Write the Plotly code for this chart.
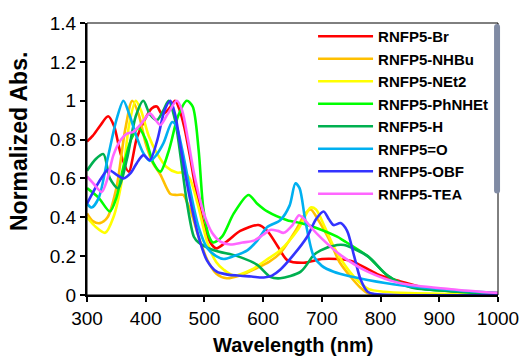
import plotly.graph_objects as go

names = ["RNFP5-Br", "RNFP5-NHBu", "RNFP5-NEt2", "RNFP5-PhNHEt",
         "RNFP5-H", "RNFP5=O", "RNFP5-OBF", "RNFP5-TEA"]
colors = ["#FF0000", "#FFC000", "#FFFF00", "#00FF00",
          "#00B050", "#00B0F0", "#3333FF", "#FF66FF"]

br_wl = [300, 310, 322, 336, 346, 358, 371, 385, 398, 410, 419, 428, 440, 450, 458, 466, 475, 485, 500, 510, 520, 540, 561, 592, 607, 625, 641, 669, 700, 726, 750, 780, 800, 834, 870, 920, 1000]
br_a = [0.79, 0.82, 0.87, 0.92, 0.87, 0.72, 0.635, 0.81, 0.9, 0.96, 0.97, 0.93, 0.96, 1.0, 0.95, 0.86, 0.72, 0.55, 0.35, 0.27, 0.24, 0.28, 0.33, 0.36, 0.33, 0.25, 0.18, 0.166, 0.185, 0.185, 0.175, 0.13, 0.10, 0.07, 0.04, 0.02, 0.01]

nhbu_wl = [300, 310, 322, 335, 350, 365, 377, 388, 400, 412, 425, 442, 453, 464, 470, 478, 490, 505, 520, 538, 560, 590, 610, 629, 655, 672, 681, 695, 715, 730, 749, 765, 778, 800, 1000]
nhbu_a = [0.42, 0.38, 0.37, 0.4, 0.55, 0.85, 1.0, 0.93, 0.78, 0.68, 0.62, 0.52, 0.515, 0.515, 0.48, 0.42, 0.3, 0.18, 0.11, 0.086, 0.1, 0.14, 0.17, 0.215, 0.33, 0.42, 0.44, 0.38, 0.27, 0.17, 0.094, 0.04, 0.01, 0.0, 0.0]

net2_wl = [300, 315, 331, 345, 360, 372, 383, 392, 405, 419, 435, 453, 465, 475, 490, 505, 520, 533, 550, 580, 610, 629, 660, 681, 690, 705, 720, 740, 760, 780, 806, 850, 1000]
net2_a = [0.4, 0.35, 0.32, 0.4, 0.6, 0.88, 1.0, 0.95, 0.82, 0.73, 0.66, 0.63, 0.63, 0.6, 0.45, 0.27, 0.17, 0.13, 0.10, 0.13, 0.19, 0.23, 0.34, 0.45, 0.44, 0.35, 0.25, 0.15, 0.077, 0.03, 0.017, 0.01, 0.0]

phnhet_wl = [300, 320, 339, 350, 362, 375, 388, 400, 413, 425, 440, 455, 470, 480, 490, 498, 508, 515, 530, 550, 575, 590, 607, 641, 664, 686, 726, 737, 778, 812, 851, 920, 1000]
phnhet_a = [0.55, 0.5, 0.43, 0.5, 0.66, 0.8, 0.86, 0.8, 0.68, 0.635, 0.75, 0.92, 1.0, 0.97, 0.75, 0.45, 0.3, 0.27, 0.3, 0.42, 0.515, 0.47, 0.43, 0.385, 0.37, 0.35, 0.3, 0.28, 0.2, 0.1, 0.043, 0.02, 0.005]

h_wl = [300, 315, 328, 339, 353, 368, 383, 396, 407, 419, 430, 439, 450, 460, 470, 482, 490, 516, 556, 590, 612, 629, 664, 686, 698, 726, 738, 778, 812, 851, 920, 1000]
h_a = [0.64, 0.7, 0.725, 0.6, 0.55, 0.7, 0.92, 1.0, 0.93, 0.9, 0.95, 1.0, 0.9, 0.7, 0.48, 0.3, 0.27, 0.23, 0.20, 0.155, 0.094, 0.086, 0.12, 0.205, 0.23, 0.257, 0.257, 0.2, 0.1, 0.04, 0.02, 0.005]

o_wl = [300, 308, 320, 335, 350, 362, 372, 385, 396, 407, 418, 430, 445, 452, 462, 475, 490, 505, 520, 533, 550, 573, 590, 607, 629, 645, 655, 662, 672, 686, 700, 720, 750, 778, 834, 920, 1000]
o_a = [0.47, 0.45, 0.5, 0.7, 0.9, 1.0, 0.93, 0.81, 0.73, 0.69, 0.72, 0.78, 0.89, 0.87, 0.75, 0.55, 0.35, 0.24, 0.2, 0.185, 0.2, 0.23, 0.28, 0.35, 0.385, 0.46, 0.575, 0.55, 0.38, 0.2, 0.15, 0.12, 0.095, 0.077, 0.05, 0.026, 0.01]

obf_wl = [300, 320, 336, 350, 362, 375, 385, 396, 407, 420, 432, 442, 450, 459, 464, 475, 490, 504, 521, 540, 556, 580, 601, 615, 629, 650, 675, 690, 703, 712, 720, 732, 743, 755, 766, 778, 790, 1000]
obf_a = [0.47, 0.58, 0.645, 0.62, 0.6, 0.63, 0.68, 0.72, 0.695, 0.8, 0.95, 1.0, 0.93, 0.77, 0.68, 0.5, 0.3, 0.18, 0.12, 0.105, 0.10, 0.095, 0.09, 0.1, 0.13, 0.2, 0.3, 0.39, 0.43, 0.39, 0.36, 0.37, 0.33, 0.2, 0.08, 0.017, 0.005, 0.0]

tea_wl = [300, 312, 325, 335, 345, 358, 368, 379, 392, 407, 417, 425, 437, 453, 462, 472, 482, 490, 499, 513, 527, 544, 565, 584, 600, 612, 625, 635, 650, 661, 670, 681, 700, 732, 778, 834, 920, 1000]
tea_a = [0.61, 0.57, 0.53, 0.6, 0.72, 0.8, 0.83, 0.84, 0.88, 0.935, 0.9, 0.875, 0.93, 1.0, 0.95, 0.8, 0.63, 0.52, 0.42, 0.32, 0.275, 0.26, 0.27, 0.28, 0.31, 0.335, 0.33, 0.32, 0.36, 0.41, 0.39, 0.35, 0.29, 0.205, 0.12, 0.06, 0.03, 0.01]

series = [(br_wl, br_a), (nhbu_wl, nhbu_a), (net2_wl, net2_a), (phnhet_wl, phnhet_a),
          (h_wl, h_a), (o_wl, o_a), (obf_wl, obf_a), (tea_wl, tea_a)]

x_ticks = [300, 400, 500, 600, 700, 800, 900, 1000]
y_ticks = [0, 0.2, 0.4, 0.6, 0.8, 1, 1.2, 1.4]
y_labels = ["0", "0.2", "0.4", "0.6", "0.8", "1", "1.2", "1.4"]

FONT = "Liberation Sans, Arial, sans-serif"

fig = go.Figure()
for name, color, (wl, a) in zip(names, colors, series):
    fig.add_trace(go.Scatter(x=wl, y=a, name="<b>" + name + "</b>", mode="lines",
                             line=dict(color=color, width=2.6, shape="spline", smoothing=0.8)))

fig.update_layout(
    width=526, height=359,
    margin=dict(l=87, r=28, t=23, b=64, autoexpand=False),
    paper_bgcolor="white", plot_bgcolor="white",
    font=dict(family=FONT, color="black"),
    showlegend=True,
    legend=dict(x=0.55, y=1.011, xanchor="left", yanchor="top",
                bgcolor="rgba(0,0,0,0)", borderwidth=0,
                font=dict(size=15, family=FONT),
                itemwidth=55),
    xaxis=dict(range=[300, 1000], tickvals=x_ticks, ticks="outside", ticklen=5,
               tickwidth=1.5, tickcolor="black", showline=True, linecolor="black", linewidth=2,
               showgrid=False, zeroline=False, tickfont=dict(size=19), automargin=False),
    yaxis=dict(range=[0, 1.4], tickvals=y_ticks, ticktext=y_labels, ticks="outside", ticklen=5,
               tickwidth=1.5, tickcolor="black", showline=True, linecolor="black", linewidth=2,
               showgrid=False, zeroline=False, tickfont=dict(size=19), automargin=False),
)
fig.add_shape(type="rect", xref="paper", yref="paper", x0=0, x1=1, y0=0, y1=1,
              line=dict(color="black", width=1), layer="above")
fig.add_annotation(text="<b>Wavelength (nm)</b>", xref="paper", yref="paper",
                   x=0.5, y=0, yshift=-50, showarrow=False, yanchor="middle",
                   font=dict(size=20, family=FONT))
fig.add_annotation(text="<b>Normalized Abs.</b>", xref="paper", yref="paper",
                   x=0, xshift=-68, y=0.5625, showarrow=False, textangle=-90,
                   xanchor="center", yanchor="middle",
                   font=dict(size=23, family=FONT))
fig.write_html("out.html", config={"displayModeBar": False},
               post_script="document.body.style.margin='0';")
